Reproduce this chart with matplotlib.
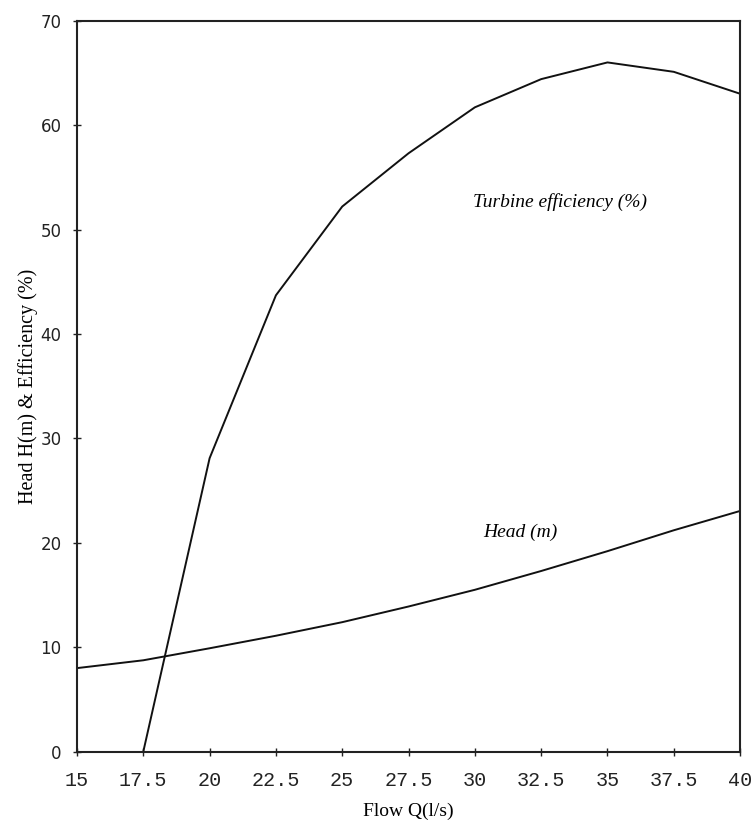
import matplotlib
matplotlib.use("Agg")
import matplotlib.pyplot as plt

# Data
flow = [15, 17.5, 20, 22.5, 25, 27.5, 30, 32.5, 35, 37.5, 40]
head = [8.0, 8.75, 9.9, 11.1, 12.4, 13.9, 15.5, 17.3, 19.2, 21.2, 23.05]

flow_eff = [17.5, 20, 22.5, 25, 27.5, 30, 32.5, 35, 37.5, 40]
efficiency = [0.0, 28.1, 43.7, 52.2, 57.3, 61.7, 64.4, 66.0, 65.1, 63.0]

xticks = [15, 17.5, 20, 22.5, 25, 27.5, 30, 32.5, 35, 37.5, 40]
xtick_labels = ["15", "17.5", "20", "22.5", "25", "27.5", "30", "32.5", "35", "37.5", "40"]
yticks = [0, 10, 20, 30, 40, 50, 60, 70]

fig = plt.figure(figsize=(7.51, 8.26), dpi=100)
ax = fig.add_axes([0.1025, 0.09, 0.883, 0.885])

ax.plot(flow, head, color="#111111", linewidth=1.4)
ax.plot(flow_eff, efficiency, color="#111111", linewidth=1.4)

ax.set_xlim(15, 40)
ax.set_ylim(0, 70)
ax.set_xticks(xticks)
ax.set_xticklabels(xtick_labels, family="Liberation Mono", fontsize=14.5, color="#1a1a1a")
ax.set_yticks(yticks)
ax.set_yticklabels([str(v) for v in yticks], family="DejaVu Sans", fontsize=12, color="#222222")
ax.tick_params(direction="inout", length=6, width=1, colors="#222222")
ax.tick_params(axis="x", pad=11)
ax.tick_params(axis="y", pad=8)

for s in ax.spines.values():
    s.set_linewidth(1.5)
    s.set_color("#222222")

ax.set_xlabel("Flow Q(l/s)", family="Liberation Serif", fontsize=14, labelpad=9)
ax.set_ylabel("Head H(m) & Efficiency (%)", family="Liberation Serif", fontsize=14.5, labelpad=2)

ax.text(33.2, 52.6, "Turbine efficiency (%)", family="Liberation Serif", style="italic",
        fontsize=14, ha="center", va="center")
ax.text(31.7, 21.0, "Head (m)", family="Liberation Serif", style="italic",
        fontsize=14, ha="center", va="center")

fig.savefig("out.png", dpi=100)
